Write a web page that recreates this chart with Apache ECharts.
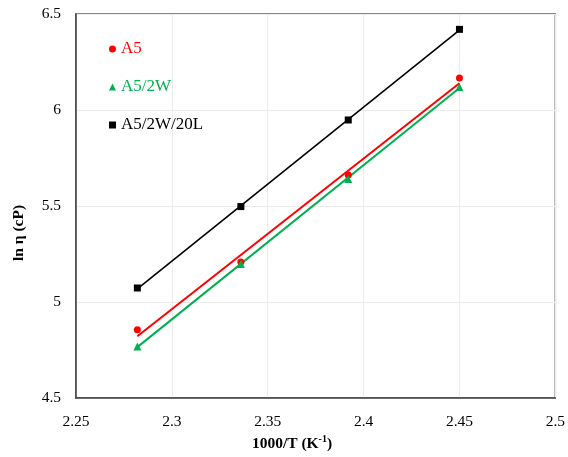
<!DOCTYPE html>
<html>
<head>
<meta charset="utf-8">
<script src="https://cdn.jsdelivr.net/npm/echarts@6/dist/echarts.min.js"></script>
<style>
  html, body { margin: 0; padding: 0; background: #fff; }
  #chart { width: 568px; height: 457px; }
</style>
</head>
<body>
<div id="chart"></div>
<script>
// Inverse temperature, 1000/T (K^-1)
const invT = [2.282, 2.336, 2.392, 2.450];

// ln of viscosity (cP) for each sample
const lnA5 = [4.855, 5.208, 5.661, 6.167];
const lnA5_2W = [4.768, 5.198, 5.641, 6.120];
const lnA5_2W_20L = [5.073, 5.497, 5.948, 6.420];

const seriesNames = ['A5', 'A5/2W', 'A5/2W/20L'];
const seriesColors = ['#FF0000', '#00B050', '#000000'];
const seriesSymbols = ['circle', 'triangle', 'rect'];

const xTicks = [2.25, 2.3, 2.35, 2.4, 2.45, 2.5];
const yTicks = [4.5, 5, 5.5, 6, 6.5];

const FONT = '"Liberation Serif", "Times New Roman", serif';

// Least-squares linear trendline spanning the measured range
function trend(xs, ys) {
  const n = xs.length;
  const mx = xs.reduce((a, b) => a + b, 0) / n;
  const my = ys.reduce((a, b) => a + b, 0) / n;
  let sxy = 0, sxx = 0;
  for (let i = 0; i < n; i++) {
    sxy += (xs[i] - mx) * (ys[i] - my);
    sxx += (xs[i] - mx) * (xs[i] - mx);
  }
  const k = sxy / sxx, b = my - k * mx;
  const x0 = xs[0], x1 = xs[n - 1];
  return [[x0, k * x0 + b], [x1, k * x1 + b]];
}

const allY = [lnA5, lnA5_2W, lnA5_2W_20L];
const lineWidths = [2, 2, 1.6];

const series = [];
allY.forEach((ys, i) => {
  series.push({
    name: seriesNames[i] + ' fit',
    type: 'line',
    data: trend(invT, ys),
    showSymbol: false,
    symbol: 'none',
    lineStyle: { color: seriesColors[i], width: lineWidths[i] },
    silent: true,
    z: 2
  });
});
allY.forEach((ys, i) => {
  series.push({
    name: seriesNames[i],
    type: 'scatter',
    data: invT.map((x, j) => [x, ys[j]]),
    symbol: seriesSymbols[i],
    symbolSize: i === 1 ? 8 : 7,
    itemStyle: { color: seriesColors[i], opacity: 1 },
    z: 3
  });
});

const chart = echarts.init(document.getElementById('chart'), null, { renderer: 'canvas' });
chart.setOption({
  animation: false,
  backgroundColor: '#ffffff',
  grid: {
    left: 76, right: 10, top: 14, bottom: 59,
    show: true, borderColor: '#606060', borderWidth: 1.5
  },
  xAxis: {
    type: 'value',
    min: xTicks[0], max: xTicks[xTicks.length - 1], interval: 0.05,
    axisLine: { show: true, lineStyle: { color: '#404040', width: 1.5 } },
    axisTick: { show: false },
    splitLine: { show: true, lineStyle: { color: '#ececec', width: 1 } },
    axisLabel: {
      margin: 16, color: '#000', fontFamily: FONT, fontSize: 15.5,
      formatter: v => {
        const t = xTicks.find(t => Math.abs(t - v) < 1e-9);
        return t === undefined ? '' : String(t);
      }
    }
  },
  yAxis: {
    type: 'value',
    min: yTicks[0], max: yTicks[yTicks.length - 1], interval: 0.5,
    axisLine: { show: true, lineStyle: { color: '#404040', width: 1.5 } },
    axisTick: { show: false },
    splitLine: { show: true, lineStyle: { color: '#ececec', width: 1 } },
    axisLabel: {
      margin: 15, color: '#000', fontFamily: FONT, fontSize: 15.5,
      formatter: v => {
        const t = yTicks.find(t => Math.abs(t - v) < 1e-9);
        return t === undefined ? '' : String(t);
      }
    }
  },
  legend: {
    orient: 'vertical',
    left: 104, top: 35,
    itemWidth: 7, itemHeight: 7, itemGap: 20,
    textStyle: { fontFamily: FONT, fontSize: 17, lineHeight: 18 },
    data: seriesNames.map((n, i) => ({
      name: n, icon: seriesSymbols[i],
      itemStyle: { opacity: 1 },
      textStyle: { color: seriesColors[i] }
    }))
  },
  graphic: [
    {
      type: 'text',
      x: 19, y: 233, rotation: Math.PI / 2,
      style: {
        text: 'ln η (cP)',
        font: 'bold 15.5px ' + FONT,
        fill: '#000', align: 'center', verticalAlign: 'middle'
      }
    },
    {
      type: 'text',
      x: 292, y: 443,
      style: {
        text: '{b|1000/T (K}{s|-1}{b|)}',
        align: 'center', verticalAlign: 'middle',
        rich: {
          b: { font: 'bold 15.5px ' + FONT, fill: '#000', verticalAlign: 'bottom', lineHeight: 18 },
          s: { font: 'bold 10px ' + FONT, fill: '#000', verticalAlign: 'top', lineHeight: 18, padding: [0, 0, 6, 0] }
        }
      }
    }
  ],
  series: series
});
</script>
</body>
</html>
